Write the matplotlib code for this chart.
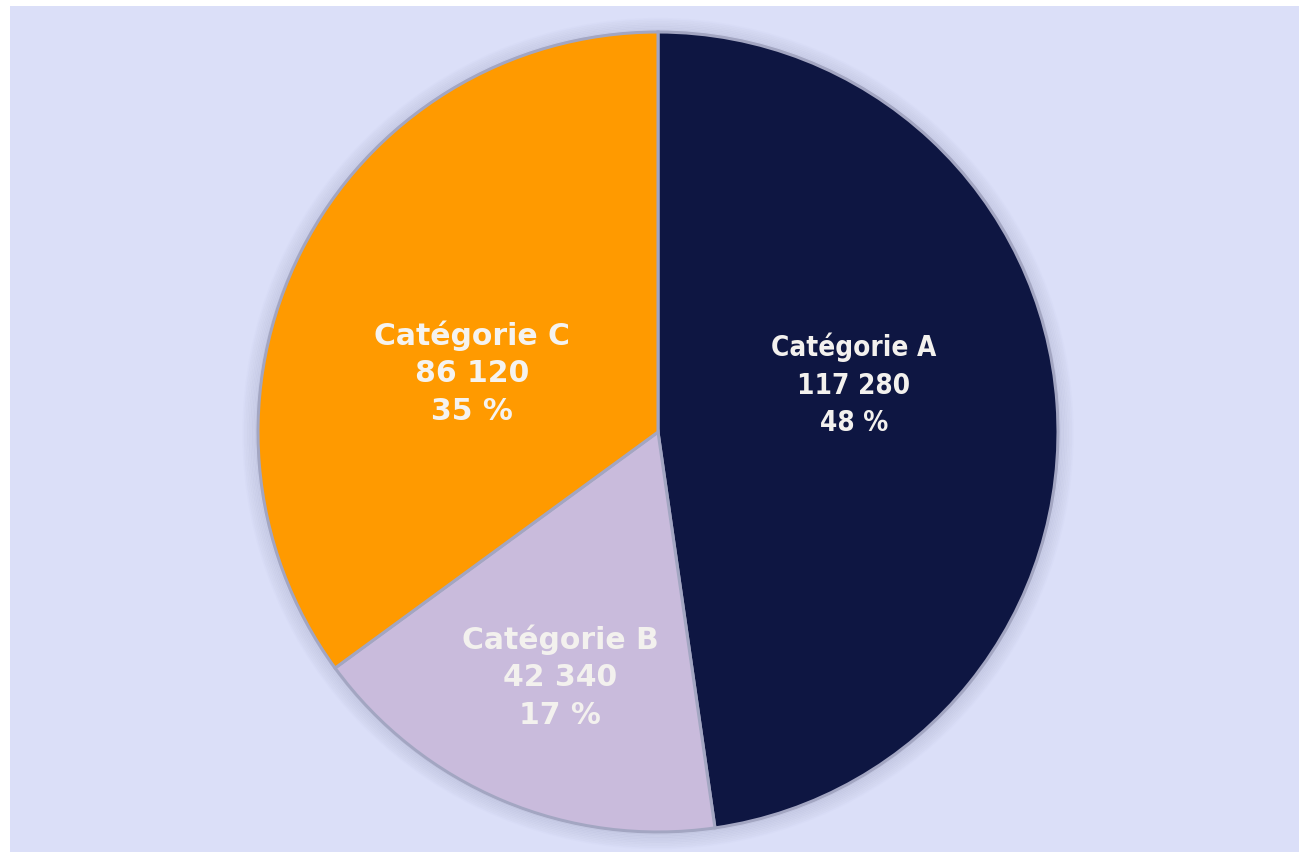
import matplotlib.pyplot as plt
from matplotlib.patches import Rectangle, Circle

# data
categories = ['Catégorie A', 'Catégorie B', 'Catégorie C']
values = [117280, 42340, 86120]
colors = ['#0E1642', '#C9BBDC', '#FF9A00']
text_colors = ['#F3F1EE', '#F3F1EE', '#F5F3F0']
fonts = [dict(family='DejaVu Sans', stretch='condensed', fontsize=20, linespacing=1.44),
         dict(family='DejaVu Sans', fontsize=21.5, linespacing=1.36),
         dict(family='DejaVu Sans', fontsize=21.5, linespacing=1.36)]
label_pos = [(0.49, 0.12), (-0.245, -0.61), (-0.465, 0.15)]

W, H = 1299, 853
fig = plt.figure(figsize=(W / 100, H / 100), dpi=100, facecolor='white')
fig.patches.append(Rectangle((10 / W, 0), 1 - 10 / W, 1 - 7 / H, transform=fig.transFigure,
                             facecolor='#DBDFF8', edgecolor='none', zorder=-5))

cx, cy, r = 658, 853 - 433, 400
ax = fig.add_axes([(cx - r) / W, (cy - r) / H, 2 * r / W, 2 * r / H])
ax.set_facecolor('none')

# soft shadow around the pie
for i in range(10):
    ax.add_patch(Circle((0, -0.004), 1 + 0.004 * i, facecolor='none', edgecolor='#6E7294',
                        linewidth=2, alpha=0.12 - 0.011 * i, zorder=0, clip_on=False))

wedges, _ = ax.pie(values, colors=colors, startangle=90, counterclock=False, radius=1,
                   wedgeprops=dict(edgecolor='#A3A6C2', linewidth=2.2))
for w in wedges:
    w.set_clip_on(False)

ax.set_xlim(-1, 1)
ax.set_ylim(-1, 1)
ax.set_aspect('equal')
ax.axis('off')

total = sum(values)
for cat, v, tc, f, (x, y) in zip(categories, values, text_colors, fonts, label_pos):
    txt = f"{cat}\n{v:,}".replace(',', ' ') + f"\n{round(100 * v / total):.0f} %"
    ax.text(x, y, txt, ha='center', va='center', color=tc, fontweight='bold', **f)

fig.savefig('out.png', dpi=100, facecolor=fig.get_facecolor())
